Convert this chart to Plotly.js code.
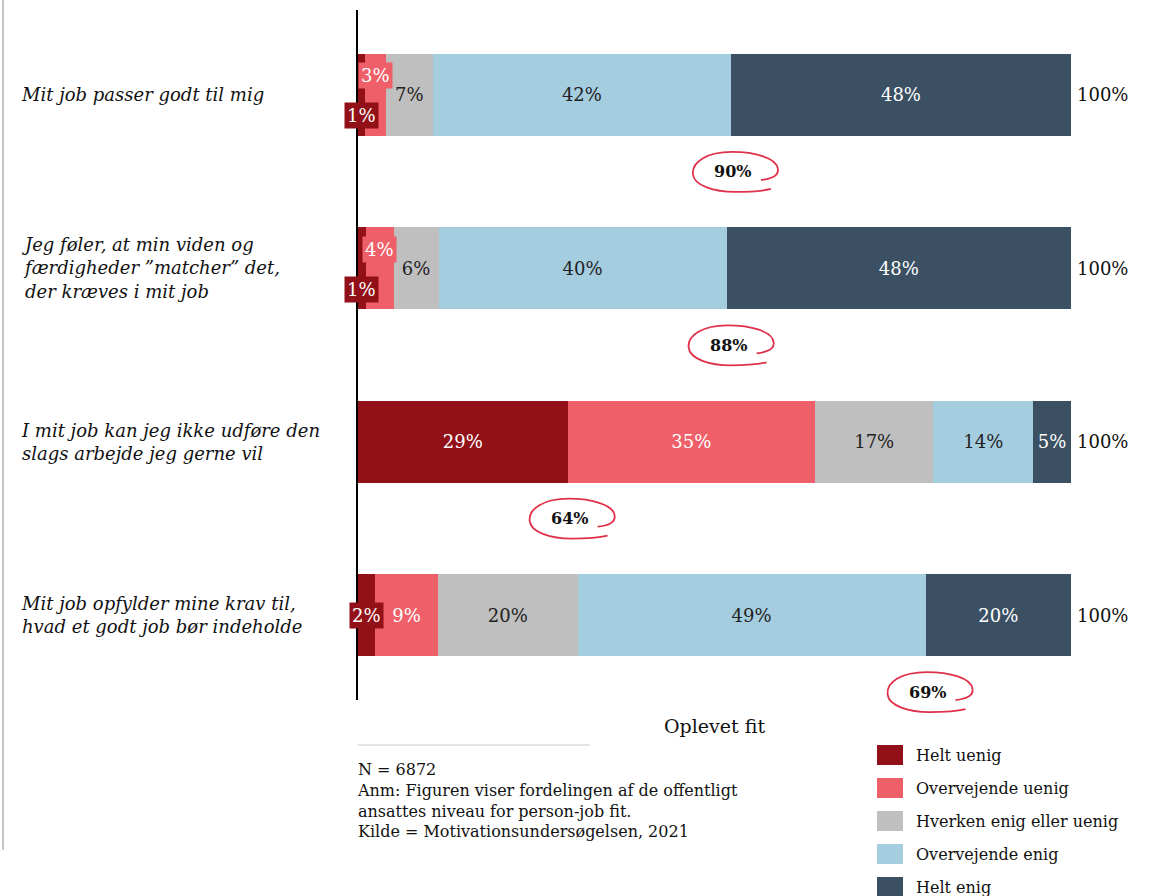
<!DOCTYPE html>
<html><head><meta charset="utf-8">
<script src="https://cdn.plot.ly/plotly-3.0.1.min.js"></script>
<style>html,body{margin:0;padding:0;background:#fff}#chart{width:1156px;height:896px}</style>
</head><body><div id="chart"></div>
<script>
// ---- data ----
const categories = [
  "Mit job passer godt til mig",
  "Jeg føler, at min viden og<br>færdigheder ”matcher” det,<br>der kræves i mit job",
  "I mit job kan jeg ikke udføre den<br>slags arbejde jeg gerne vil",
  "Mit job opfylder mine krav til,<br>hvad et godt job bør indeholde"
];
const seriesNames = ["Helt uenig", "Overvejende uenig", "Hverken enig eller uenig", "Overvejende enig", "Helt enig"];
const heltUenig       = [1.0, 1.1, 29.4, 2.4];
const overvejendeUenig= [2.9, 3.9, 34.7, 8.8];
const hverken         = [6.6, 6.3, 16.6, 19.6];
const overvejendeEnig = [41.8, 40.4, 14.0, 48.8];
const heltEnig        = [47.7, 48.3, 5.3, 20.4];
const totals = ["100%", "100%", "100%", "100%"];
const fitSums = ["90%", "88%", "64%", "69%"];
const fitBoundarySeries = [3, 3, 0, 3]; // circle sits at end of this series
const notes = ["N = 6872", "Anm: Figuren viser fordelingen af de offentligt", "ansattes niveau for person-job fit.", "Kilde = Motivationsundersøgelsen, 2021"];
const xTitle = "Oplevet fit";

// ---- styles ----
const colors = ["#921118", "#ef5f69", "#bfbfbf", "#a5cde0", "#3b5163"];
const textColors = ["#ffffff", "#ffffff", "#222222", "#222222", "#ffffff"];
const FONT = "DejaVu Serif, Georgia, serif";
const xRange = [0, 100];
const yRange = [3.49, -0.49];

const series = [heltUenig, overvejendeUenig, hverken, overvejendeEnig, heltEnig];
const rows = categories.map((_, i) => i);

const traces = series.map((vals, s) => ({
  type: 'bar', orientation: 'h', y: rows, x: vals, name: seriesNames[s],
  marker: {color: colors[s], line: {width: 0}},
  text: vals.map(v => v >= 5 ? Math.round(v) + '%' : ''),
  textposition: 'inside', insidetextanchor: 'middle', textangle: 0,
  textfont: {family: FONT, size: 18, color: textColors[s]},
  hoverinfo: 'skip', width: 0.473, showlegend: false
}));

const annotations = [];
const shapes = [];

// category labels
categories.forEach((c, i) => annotations.push({
  text: '<i>' + c + '</i>', xref: 'paper', x: 0, xshift: -339, xanchor: 'left', align: 'left',
  yref: 'y', y: i, yanchor: 'middle', showarrow: false,
  font: {family: FONT, size: 18, color: '#111'}
}));
// totals
totals.forEach((t, i) => annotations.push({
  text: t, xref: 'x', x: 100, xshift: 4, xanchor: 'left', yref: 'y', y: i, yanchor: 'middle',
  showarrow: false, font: {family: FONT, size: 18, color: '#111'}
}));
// small segment labels
rows.forEach(i => {
  const bothSmall = series[0][i] < 5 && series[1][i] < 5;
  let cum = 0;
  [0, 1].forEach(s => {
    const v = series[s][i];
    const mid = cum + v / 2;
    cum += v;
    if (v < 5) {
      let ys = 0;
      if (bothSmall) ys = s === 0 ? -21 : 19;
      annotations.push({
        text: Math.round(v) + '%', xref: 'x', x: mid, yref: 'y', y: i, yshift: ys,
        showarrow: false, bgcolor: colors[s], borderpad: 2,
        font: {family: FONT, size: 18, color: textColors[s]}
      });
    }
  });
});
// fit circles (hand-drawn loop), placed at the boundary of the summed segments
const CY = -77, CX = 4;
function circlePath() {
  const p = (x, y) => (x + CX) + ',' + (-y + CY); // screen-like coords -> pixel-up coords
  return 'M ' + p(26, 8) + ' C ' + p(36, 7) + ' ' + p(44, 4) + ' ' + p(43, -3) +
    ' C ' + p(42, -14) + ' ' + p(20, -20) + ' ' + p(-3, -20) +
    ' C ' + p(-28, -20) + ' ' + p(-43, -10) + ' ' + p(-42, 2) +
    ' C ' + p(-41, 14) + ' ' + p(-20, 20) + ' ' + p(0, 20) +
    ' C ' + p(15, 20) + ' ' + p(28, 19) + ' ' + p(36, 17);
}
const toPaperX = v => (v - xRange[0]) / (xRange[1] - xRange[0]);
const toPaperY = v => (yRange[0] - v) / (yRange[0] - yRange[1]);
rows.forEach(i => {
  let b = 0;
  for (let s = 0; s <= fitBoundarySeries[i]; s++) b += series[s][i];
  shapes.push({
    type: 'path', xref: 'paper', yref: 'paper', xsizemode: 'pixel', ysizemode: 'pixel',
    xanchor: toPaperX(b), yanchor: toPaperY(i), path: circlePath(),
    line: {color: '#e0314b', width: 1.8}
  });
  annotations.push({
    text: '<b>' + fitSums[i] + '</b>', xref: 'x', x: b, xshift: CX - 2, yref: 'y', y: i, yshift: CY,
    showarrow: false, font: {family: FONT, size: 16, color: '#111'}
  });
});
// x title
annotations.push({
  text: xTitle, xref: 'paper', x: 0.5, yref: 'paper', y: 0, yshift: -26, yanchor: 'middle',
  showarrow: false, font: {family: FONT, size: 19, color: '#111'}
});
// notes
annotations.push({
  text: notes.join('<br>'), xref: 'paper', x: 0, xanchor: 'left', align: 'left', xshift: -3,
  yref: 'paper', y: 0, yanchor: 'top', yshift: -58, showarrow: false,
  font: {family: FONT, size: 16, color: '#111'}
});
shapes.push({
  type: 'line', xref: 'paper', xsizemode: 'pixel', xanchor: 0, x0: 0, x1: 232,
  yref: 'paper', ysizemode: 'pixel', yanchor: 0, y0: -45, y1: -45,
  line: {color: '#c8c8c8', width: 1}
});
// left grey frame line
shapes.push({
  type: 'line', xref: 'paper', xsizemode: 'pixel', xanchor: 0, x0: -355, x1: -355,
  yref: 'paper', ysizemode: 'pixel', yanchor: 1, y0: 10, y1: -840,
  line: {color: '#b0b0b0', width: 1.5}
});
// custom legend
seriesNames.forEach((n, s) => {
  shapes.push({
    type: 'rect', xref: 'paper', xsizemode: 'pixel', xanchor: 1, x0: -194, x1: -168,
    yref: 'paper', ysizemode: 'pixel', yanchor: 0, y0: -(45 + 33 * s), y1: -(65 + 33 * s),
    fillcolor: colors[s], line: {width: 0}
  });
  annotations.push({
    text: n, xref: 'paper', x: 1, xshift: -157, xanchor: 'left',
    yref: 'paper', y: 0, yshift: -(55 + 33 * s), yanchor: 'middle', showarrow: false,
    font: {family: FONT, size: 16, color: '#111'}
  });
});

const layout = {
  width: 1156, height: 896,
  margin: {l: 358, r: 85, t: 10, b: 196},
  barmode: 'stack', bargap: 0,
  paper_bgcolor: '#fff', plot_bgcolor: '#fff',
  xaxis: {range: xRange, visible: false, fixedrange: true},
  yaxis: {range: yRange, showline: true, linecolor: '#000', linewidth: 2,
          showticklabels: false, ticks: '', showgrid: false, zeroline: false, fixedrange: true},
  annotations, shapes, showlegend: false
};
Plotly.newPlot('chart', traces, layout, {displayModeBar: false, staticPlot: true});
</script></body></html>
